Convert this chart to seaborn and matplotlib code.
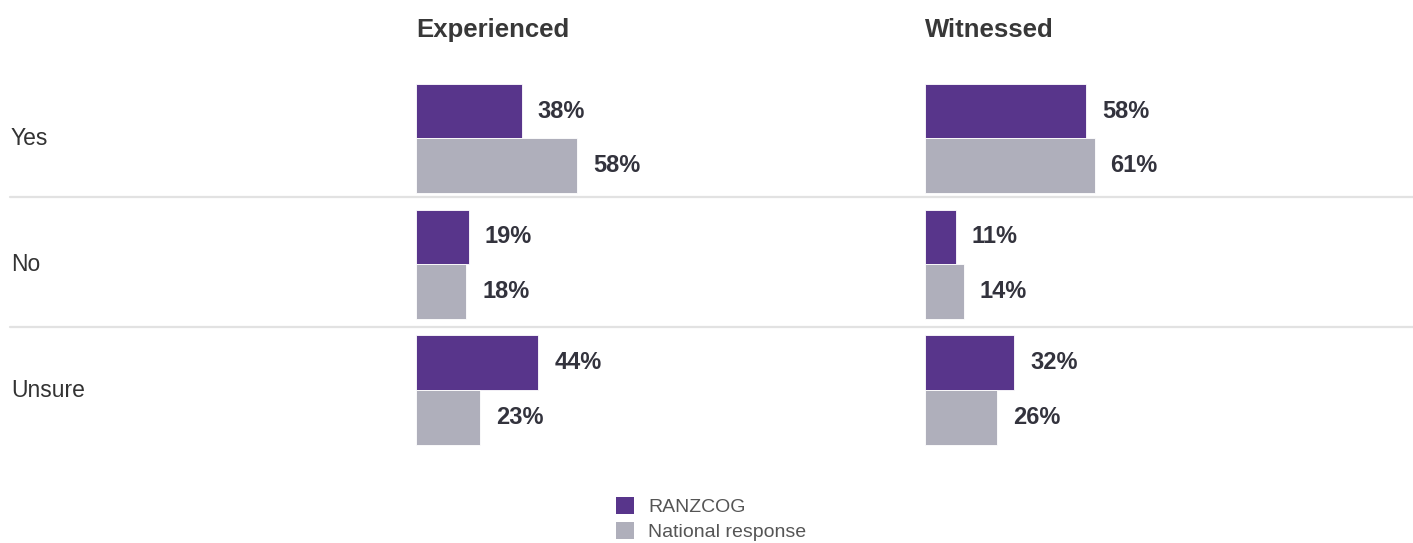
import matplotlib
matplotlib.use("Agg")
import matplotlib.pyplot as plt
from matplotlib.patches import Patch
from matplotlib.lines import Line2D
from matplotlib.transforms import blended_transform_factory
import pandas as pd
import seaborn as sns

# Survey answers and the share of respondents giving each answer (%)
categories = ["Yes", "No", "Unsure"]
groups = ["RANZCOG", "National response"]
panel_titles = ["Experienced", "Witnessed"]
experienced_ranzcog = [38, 19, 44]
experienced_national = [58, 18, 23]
witnessed_ranzcog = [58, 11, 32]
witnessed_national = [61, 14, 26]

group_colors = ["#58358b", "#afafbb"]

panels = {
    "Experienced": {"RANZCOG": experienced_ranzcog, "National response": experienced_national},
    "Witnessed": {"RANZCOG": witnessed_ranzcog, "National response": witnessed_national},
}

rows = []
for panel, series in panels.items():
    for group, values in series.items():
        for cat, v in zip(categories, values):
            rows.append({"panel": panel, "group": group, "response": cat, "pct": v})
df = pd.DataFrame(rows)

sns.set_theme(style="white")
plt.rcParams["font.family"] = ["Liberation Sans", "DejaVu Sans"]

W, H = 1413, 543
fig = plt.figure(figsize=(W / 100, H / 100), dpi=100)
fig.patch.set_facecolor("white")

top_px, bottom_px = 75.6, 452.9
ax_b = 1 - bottom_px / H
ax_h = (bottom_px - top_px) / H
panel_left_px = [416, 925]
axes = [fig.add_axes([x / W, ax_b, 278 / W, ax_h]) for x in panel_left_px]

text_dark = "#33333d"

for ax, title in zip(axes, panel_titles):
    sub = df[df["panel"] == title]
    sns.barplot(
        data=sub, y="response", x="pct", hue="group",
        order=categories, hue_order=groups, palette=group_colors,
        orient="h", width=0.867, saturation=1, errorbar=None,
        edgecolor="white", linewidth=0.6, legend=False, ax=ax,
    )
    ax.set_xlim(0, 100)
    ax.set_ylim(2.5, -0.5)
    for cont in ax.containers:
        ax.bar_label(cont, fmt="%g%%", padding=11.5, fontsize=17,
                     fontweight="bold", color=text_dark)
    ax.set_title(title, loc="left", fontsize=18.5, fontweight="bold",
                 color="#383838", pad=28)
    ax.set_xlabel("")
    ax.set_ylabel("")
    ax.set_xticks([])
    ax.set_yticks([])
    for s in ax.spines.values():
        s.set_visible(False)
    ax.patch.set_alpha(0)

# Row labels and separators spanning the full width
trans = blended_transform_factory(fig.transFigure, axes[0].transData)
for i, cat in enumerate(categories):
    axes[0].text(11 / W, i, cat, transform=trans, ha="left", va="center",
                 fontsize=16.5, color="#333333", clip_on=False)
for y in (0.465, 1.5):
    fig.add_artist(Line2D([10 / W, 1], [y, y], transform=trans,
                          color="#e2e2e2", lw=1.6))

handles = [Patch(facecolor=c, edgecolor="none", label=g)
           for c, g in zip(group_colors, groups)]
fig.legend(handles=handles, loc="upper left", bbox_to_anchor=(616 / W, 1 - 497 / H),
           frameon=False, fontsize=14, handlelength=0.95, handleheight=0.95,
           handletextpad=0.7, labelspacing=0.3, borderpad=0, borderaxespad=0,
           labelcolor="#555555")

fig.savefig("out.png", dpi=100)
